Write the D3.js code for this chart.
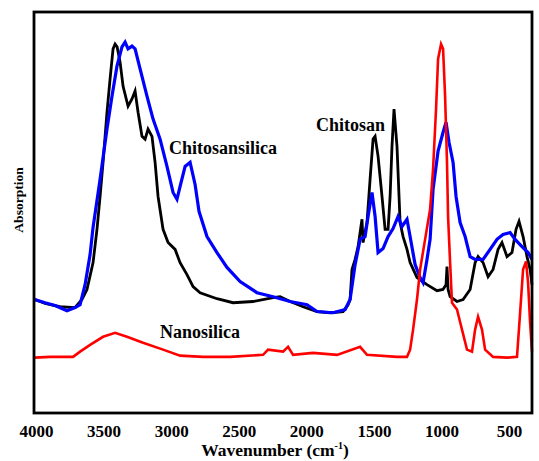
<!DOCTYPE html>
<html>
<head>
<meta charset="utf-8">
<script src="https://cdn.jsdelivr.net/npm/d3@7"></script>
<style>
  body { margin: 0; background: #fff; }
  text { font-family: "Liberation Serif", "Times New Roman", serif; }
</style>
</head>
<body>
<svg id="ftir" width="539" height="461"></svg>
<script>
// wavenumber (cm-1) / absorption (a.u.) pairs
var chitosanWn = [4010, 3933, 3822, 3711, 3660, 3623, 3578, 3549, 3526, 3504, 3475, 3452, 3430, 3415, 3400, 3378, 3356, 3319, 3290, 3267, 3245, 3216, 3193, 3171, 3142, 3119, 3097, 3060, 3023, 2971, 2934, 2883, 2838, 2786, 2661, 2542, 2394, 2246, 2194, 2120, 2024, 1921, 1824, 1728, 1691, 1676, 1662, 1639, 1617, 1588, 1580, 1551, 1528, 1506, 1491, 1469, 1440, 1417, 1395, 1380, 1366, 1351, 1329, 1306, 1284, 1255, 1232, 1181, 1107, 1033, 989, 966, 959, 951, 936, 885, 840, 788, 751, 729, 692, 655, 618, 581, 552, 515, 478, 448, 426, 396, 367, 344, 330];
var chitosanAbs = [28.3, 27.3, 26.5, 26.3, 28.3, 30.8, 37.5, 45.8, 54, 62.5, 75, 83.3, 90.8, 92, 91.3, 87.5, 81.5, 76.5, 78.3, 80.3, 75, 69, 68.3, 70.8, 69, 62.5, 54, 45.8, 42.5, 40.8, 37.5, 34.5, 31.5, 30, 28.5, 27.5, 27.8, 28.8, 29, 27.8, 26.5, 25.3, 25, 25.3, 27, 28.3, 35.8, 38.3, 41.5, 48.3, 42.5, 47.5, 58.3, 68.3, 69, 64, 54, 45.8, 45.8, 54, 66.5, 75.8, 66.5, 47.5, 44, 40.8, 37.5, 33.8, 32, 30.5, 30.8, 32, 36.5, 30.8, 29, 27.8, 28.3, 30.8, 37.5, 39, 37.5, 34, 35.8, 40.8, 42.5, 39, 40, 45.8, 47.8, 44, 39, 35.8, 32];

var hybridWn = [4010, 3933, 3859, 3771, 3711, 3674, 3637, 3600, 3578, 3526, 3475, 3438, 3401, 3364, 3341, 3319, 3290, 3267, 3230, 3179, 3134, 3082, 3031, 2986, 2957, 2934, 2897, 2860, 2823, 2794, 2735, 2661, 2587, 2490, 2365, 2246, 2120, 1995, 1921, 1802, 1713, 1676, 1639, 1602, 1565, 1543, 1514, 1491, 1469, 1432, 1395, 1358, 1321, 1292, 1255, 1232, 1195, 1158, 1136, 1107, 1084, 1062, 1025, 988, 966, 944, 914, 892, 862, 825, 788, 751, 692, 640, 589, 544, 492, 455, 404, 359, 330];
var hybridAbs = [28.3, 27.5, 26.8, 25.5, 26.3, 27, 32, 39.5, 46.3, 58.3, 70.8, 79, 86.5, 91.3, 92.5, 90.8, 91.5, 90.8, 85.8, 79, 73.3, 68.3, 61.5, 55, 53.3, 56.5, 61.5, 62.5, 57, 50.3, 44, 40, 36.3, 32.8, 30, 29, 27.8, 27, 25.3, 25, 25.8, 28.3, 37, 43.3, 44, 49, 55, 49, 40, 41, 44, 46, 49, 46.5, 48.3, 44, 37, 33.8, 32.5, 38.3, 43.3, 55.8, 65.3, 70, 72.5, 67.5, 62.5, 54, 47.5, 44, 39, 38.3, 38.3, 40.8, 43.3, 44.5, 45, 43.3, 41.5, 40, 38.3];

var silicaWn = [4010, 3896, 3726, 3674, 3600, 3504, 3415, 3327, 3208, 3060, 2934, 2764, 2564, 2320, 2283, 2172, 2135, 2098, 1950, 1773, 1602, 1551, 1329, 1255, 1232, 1210, 1181, 1158, 1121, 1084, 1062, 1040, 1025, 1003, 988, 973, 959, 951, 936, 922, 885, 848, 811, 774, 751, 729, 700, 677, 618, 515, 441, 418, 396, 374, 359, 344, 330];
var silicaAbs = [13.8, 14, 14, 15.3, 17, 19, 20, 19, 17.5, 15.8, 14.3, 14, 14, 14.5, 15.8, 15.3, 16.5, 14.5, 15, 14.5, 16.5, 14.5, 14, 14, 15.8, 20.8, 28.3, 35.8, 43.3, 50.8, 60.8, 75.8, 88.3, 92, 90.8, 79, 62.5, 49, 37.5, 27.5, 25.8, 20.8, 15.8, 15.3, 20.8, 24, 20.8, 15.8, 14, 13.8, 14, 25, 35.8, 37.8, 32.5, 22.5, 15.3];

var xTicks = [4000, 3500, 3000, 2500, 2000, 1500, 1000, 500];

var series = [
  { name: "Chitosan", wn: chitosanWn, abs: chitosanAbs, color: "#000000", w: 2.8 },
  { name: "Chitosansilica", wn: hybridWn, abs: hybridAbs, color: "#0000ff", w: 3.2 },
  { name: "Nanosilica", wn: silicaWn, abs: silicaAbs, color: "#ff0000", w: 2.6 }
];

var plot = { left: 34, right: 532, top: 12, bottom: 413 };

var svg = d3.select("svg#ftir");

// reversed wavenumber axis, like the instrument output
var x = d3.scaleLinear()
  .domain([4015, 330])
  .range([plot.left, plot.right]);
var y = d3.scaleLinear()
  .domain([0, 100])
  .range([plot.bottom, plot.top]);

var line = d3.line()
  .x(function (d) { return x(d[0]); })
  .y(function (d) { return y(d[1]); });

svg.selectAll("path.spec")
  .data(series)
  .enter().append("path")
  .attr("class", "spec")
  .attr("fill", "none")
  .attr("stroke", function (d) { return d.color; })
  .attr("stroke-width", function (d) { return d.w; })
  .attr("stroke-linejoin", "miter")
  .attr("d", function (d) { return line(d3.zip(d.wn, d.abs)); });

// frame
svg.append("rect")
  .attr("x", plot.left)
  .attr("y", plot.top)
  .attr("width", plot.right - plot.left)
  .attr("height", plot.bottom - plot.top)
  .attr("fill", "none")
  .attr("stroke", "#000")
  .attr("stroke-width", 2.8);

// x axis labels only, no tick marks
var xAxis = svg.append("g")
  .attr("transform", "translate(0," + plot.bottom + ")")
  .call(d3.axisBottom(x).tickValues(xTicks).tickSize(0).tickPadding(12).tickFormat(d3.format("d")));
xAxis.select(".domain").remove();
xAxis.selectAll("text")
  .style("font-family", "'Liberation Serif', serif")
  .style("font-size", "17px")
  .style("font-weight", "bold")
  .attr("fill", "#000");

svg.append("text")
  .attr("x", 275)
  .attr("y", 456)
  .attr("text-anchor", "middle")
  .style("font-size", "17.5px")
  .style("font-weight", "bold")
  .html("Wavenumber (cm<tspan dy='-7' font-size='10px'>-1</tspan><tspan dy='7'>)</tspan>");

svg.append("text")
  .attr("transform", "translate(23,200) rotate(-90)")
  .attr("text-anchor", "middle")
  .style("font-size", "13.5px")
  .style("font-weight", "bold")
  .text("Absorption");

// curve names
var names = [
  { t: "Chitosansilica", x: 169, y: 154 },
  { t: "Chitosan", x: 316, y: 131 },
  { t: "Nanosilica", x: 160, y: 338 }
];
svg.selectAll("text.name")
  .data(names)
  .enter().append("text")
  .attr("class", "name")
  .attr("x", function (d) { return d.x; })
  .attr("y", function (d) { return d.y; })
  .style("font-size", "18px")
  .style("font-weight", "bold")
  .text(function (d) { return d.t; });
</script>
</body>
</html>
